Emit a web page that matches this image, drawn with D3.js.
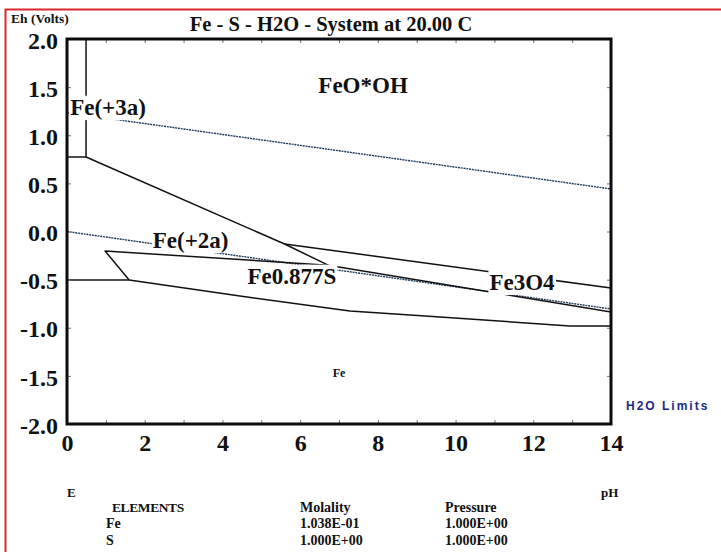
<!DOCTYPE html>
<html>
<head>
<meta charset="utf-8">
<script src="https://cdn.jsdelivr.net/npm/d3@7"></script>
<style>
  html, body { margin: 0; padding: 0; background: #ffffff; }
  svg { display: block; }
</style>
</head>
<body>
<script>
// ---- axis values ----
const phTicks = d3.range(0, 15, 1);
const phLabels = [0, 2, 4, 6, 8, 10, 12, 14];
const ehTicks = [2.0, 1.5, 1.0, 0.5, 0.0, -0.5, -1.0, -1.5, -2.0];

// ---- stability-field boundaries, as [pH, Eh] pairs ----
const fe3Fe2Line = [[0, 0.774], [0.49, 0.774]];
const fe3FeoohLine = [[0.49, 2.0], [0.49, 0.774]];
const fe2FeoohLine = [[0.49, 0.774], [5.6, -0.13], [6.72, -0.35]];
const feoohFe3o4Line = [[5.6, -0.13], [14, -0.587]];
const fe2PyrrhotiteLine = [[1.6, -0.504], [0.98, -0.203], [6.72, -0.35]];
const fe3o4PyrrhotiteLine = [[6.72, -0.35], [14, -0.836]];
const fe2FeLine = [[0, -0.504], [1.6, -0.504]];
const pyrrhotiteFeLine = [[1.6, -0.504], [4.45, -0.670], [7.28, -0.826], [9.6, -0.888], [12.94, -0.982], [14, -0.982]];

// ---- water stability limits ----
const o2Limit = [[0, 1.235], [14, 0.442]];
const h2Limit = [[0, 0.0], [14, -0.805]];

// ---- species fields ----
const fieldNames = ["FeO*OH", "Fe(+3a)", "Fe(+2a)", "Fe0.877S", "Fe3O4", "Fe"];
const fieldPH = [7.62, 1.055, 3.18, 5.79, 11.71, 7.0];
const fieldEh = [1.439, 1.21, -0.171, -0.545, -0.608, -1.512];

// ---- system composition ----
const elements = ["Fe", "S"];
const molality = ["1.038E-01", "1.000E+00"];
const pressure = ["1.000E+00", "1.000E+00"];

const W = 721, H = 552;
const plot = { left: 67, right: 611, top: 39, bottom: 424 };
const serif = "'Liberation Serif', 'Times New Roman', serif";

const svg = d3.select("body").append("svg")
  .attr("width", W).attr("height", H)
  .attr("viewBox", `0 0 ${W} ${H}`);

svg.append("rect").attr("width", W).attr("height", H).attr("fill", "#ffffff");

// page border
svg.append("path")
  .attr("d", `M5.5,${H} L5.5,9.5 L${W},9.5`)
  .attr("fill", "none").attr("stroke", "#d8262c").attr("stroke-width", 2);

const x = d3.scaleLinear().domain([0, 14]).range([plot.left, plot.right]);
const y = d3.scaleLinear().domain([-2, 2]).range([plot.bottom, plot.top]);

const line = d3.line().x(d => x(d[0])).y(d => y(d[1]));

// water limits (dotted)
const water = svg.append("g")
  .attr("fill", "none").attr("stroke", "#1d3a58")
  .attr("stroke-width", 1.4).attr("stroke-dasharray", "2,0.8");
[o2Limit, h2Limit].forEach(d => water.append("path").attr("d", line(d)));

// field boundaries
const bounds = svg.append("g")
  .attr("fill", "none").attr("stroke", "#111111")
  .attr("stroke-width", 1.5).attr("stroke-linejoin", "round");
[fe3Fe2Line, fe3FeoohLine, fe2FeoohLine, feoohFe3o4Line, fe2PyrrhotiteLine,
 fe3o4PyrrhotiteLine, fe2FeLine, pyrrhotiteFeLine]
  .forEach(d => bounds.append("path").attr("d", line(d)));

// inward ticks
const tickColor = "#5d7894";
function styleTicks(g) {
  g.select(".domain").remove();
  g.selectAll(".tick line").attr("stroke", tickColor).attr("stroke-width", 1);
  g.selectAll(".tick text").remove();
}
svg.append("g").attr("transform", `translate(0,${plot.top})`)
  .call(d3.axisTop(x).tickValues(phTicks).tickSize(-4)).call(styleTicks);
svg.append("g").attr("transform", `translate(0,${plot.bottom})`)
  .call(d3.axisBottom(x).tickValues(phTicks).tickSize(-4)).call(styleTicks);
svg.append("g").attr("transform", `translate(${plot.left},0)`)
  .call(d3.axisLeft(y).tickValues(ehTicks).tickSize(-4)).call(styleTicks);
svg.append("g").attr("transform", `translate(${plot.right},0)`)
  .call(d3.axisRight(y).tickValues(ehTicks).tickSize(-4)).call(styleTicks);

// tick labels
const xLab = svg.append("g")
  .attr("transform", `translate(0,${plot.bottom})`)
  .call(d3.axisBottom(x).tickValues(phLabels).tickSize(0).tickPadding(10).tickFormat(d3.format("d")));
xLab.select(".domain").remove();
xLab.selectAll("text")
  .attr("font-family", serif).attr("font-weight", "bold").attr("font-size", 24)
  .attr("fill", "#111111");

// plain hyphen for negative values
const ehFormat = v => d3.format(".1f")(v).replace("\u2212", "-");
const yLab = svg.append("g")
  .attr("transform", `translate(${plot.left - 9},0)`)
  .call(d3.axisLeft(y).tickValues(ehTicks).tickSize(0).tickPadding(0).tickFormat(ehFormat));
yLab.select(".domain").remove();
yLab.selectAll("text")
  .attr("font-family", serif).attr("font-weight", "bold").attr("font-size", 24)
  .attr("fill", "#111111").attr("dy", "0.38em");

// plot frame
svg.append("rect")
  .attr("x", plot.left).attr("y", plot.top)
  .attr("width", plot.right - plot.left).attr("height", plot.bottom - plot.top)
  .attr("fill", "none").attr("stroke", "#0c0c0c").attr("stroke-width", 3);

// field labels on white masks
const labels = svg.append("g");
fieldNames.forEach((name, i) => {
  const fs = name === "Fe" ? 12 : 23;
  const g = labels.append("g");
  const t = g.append("text")
    .attr("x", x(fieldPH[i])).attr("y", y(fieldEh[i]))
    .attr("text-anchor", "middle")
    .attr("font-family", serif).attr("font-weight", "bold").attr("font-size", fs)
    .attr("fill", "#111111").text(name);
  if (fs > 12) {
    const b = t.node().getBBox();
    g.insert("rect", "text")
      .attr("x", b.x - 1).attr("width", b.width + 2)
      .attr("y", y(fieldEh[i]) - 0.84 * fs).attr("height", 1.06 * fs)
      .attr("fill", "#ffffff");
  }
});

// titles
svg.append("text")
  .attr("x", 331).attr("y", 31).attr("text-anchor", "middle")
  .attr("font-family", serif).attr("font-weight", "bold").attr("font-size", 20.5)
  .attr("fill", "#111111").text("Fe - S - H2O - System at 20.00 C");

svg.append("text")
  .attr("x", 11).attr("y", 23)
  .attr("font-family", serif).attr("font-weight", "bold").attr("font-size", 13.5)
  .attr("fill", "#111111").text("Eh (Volts)");

svg.append("text")
  .attr("x", 67).attr("y", 497)
  .attr("font-family", serif).attr("font-weight", "bold").attr("font-size", 13)
  .attr("fill", "#111111").text("E");

svg.append("text")
  .attr("x", 601).attr("y", 497)
  .attr("font-family", serif).attr("font-weight", "bold").attr("font-size", 13)
  .attr("fill", "#111111").text("pH");

svg.append("text")
  .attr("x", 626).attr("y", 410)
  .attr("font-family", "'Liberation Sans', Arial, sans-serif").attr("font-weight", "bold")
  .attr("font-size", 12).attr("letter-spacing", 2)
  .attr("fill", "#1c2a86").text("H2O Limits");

// composition table
const table = svg.append("g")
  .attr("font-family", serif).attr("font-weight", "bold").attr("font-size", 14)
  .attr("fill", "#111111");
const colX = [106, 300, 445];
table.append("text").attr("x", 112).attr("y", 512).attr("font-size", 13.5)
  .attr("letter-spacing", -0.4).text("ELEMENTS");
table.append("text").attr("x", colX[1]).attr("y", 512).text("Molality");
table.append("text").attr("x", colX[2]).attr("y", 512).text("Pressure");
elements.forEach((el, i) => {
  const yy = 528 + i * 17;
  table.append("text").attr("x", colX[0]).attr("y", yy).text(el);
  table.append("text").attr("x", colX[1]).attr("y", yy).text(molality[i]);
  table.append("text").attr("x", colX[2]).attr("y", yy).text(pressure[i]);
});
</script>
</body>
</html>
